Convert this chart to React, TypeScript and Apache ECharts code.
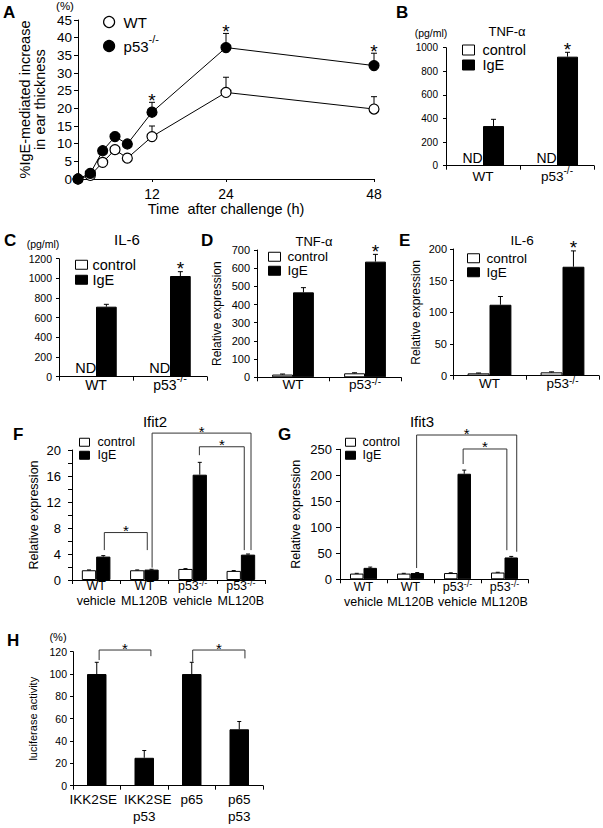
import React, { useEffect, useRef } from 'react';
import * as echarts from 'echarts';

const FONT = '"Liberation Sans", Arial, Helvetica, sans-serif';
const INK = '#000';

// ---------- A: ear swelling time course ----------
const aHours = [0, 2, 4, 6, 8, 12, 24, 48];
const aTickHours = [12, 24, 48];
const aWT = [0, 1.0, 4.7, 8.3, 5.9, 12.0, 24.5, 19.8];
const aWTErr = [0, 0, 0, 0, 0, 3.0, 4.3, 3.5];
const aKO = [0, 1.6, 8.0, 12.0, 9.9, 18.9, 37.2, 32.1];
const aKOErr = [0, 0, 0, 1.2, 0, 2.8, 4.0, 3.5];
const aKOStar = [0, 0, 0, 0, 0, 1, 1, 1];

const genotypes = ['WT', 'p53-/-'];

// ---------- B: TNF-α protein (pg/ml) ----------
const bControl = [0, 0]; // ND
const bIgE = [336, 924];
const bIgEErr = [57, 37];
const bStar = [0, 1];

// ---------- C: IL-6 protein (pg/ml) ----------
const cControl = [0, 0]; // ND
const cIgE = [712, 1024];
const cIgEErr = [24, 44];
const cStar = [0, 1];

// ---------- D: TNF-α mRNA ----------
const dControl = [15, 22];
const dControlErr = [3, 3];
const dIgE = [467, 636];
const dIgEErr = [26, 40];
const dStar = [0, 1];

// ---------- E: IL-6 mRNA ----------
const eControl = [3.7, 5.3];
const eControlErr = [0.6, 0.8];
const eIgE = [112, 172];
const eIgEErr = [13, 25];
const eStar = [0, 1];

const treatments = ['WT\nvehicle', 'WT\nML120B', 'p53-/-\nvehicle', 'p53-/-\nML120B'];

// ---------- F: Ifit2 ----------
const fControl = [1.5, 1.5, 1.7, 1.4];
const fControlErr = [0.05, 0.05, 0.05, 0.05];
const fIgE = [3.6, 1.6, 16.2, 3.9];
const fIgEErr = [0.15, 0.05, 1.9, 0.1];
// comparison brackets: [fromCat, fromOffset, toCat, toOffset, topValue, fromLegEnd, toLegEnd]
const fBrackets = [
  [0, 0.17, 1, 0.06, 7.3, 4.6, 4.6],
  [1, 0.16, 3, 0.21, 22.6, 1.9, 4.6],
  [2, 0.14, 3, 0.07, 20.5, 19.2, 4.6],
];

// ---------- G: Ifit3 ----------
const gControl = [11, 11, 12, 13];
const gControlErr = [0.5, 0.5, 0.5, 0.5];
const gIgE = [22, 12, 203, 42];
const gIgEErr = [1.5, 1, 7, 2];
const gBrackets = [
  [1, 0.13, 3, 0.26, 277.5, 21.7, 53],
  [2, 0.12, 3, 0.05, 250.6, 221.7, 56],
];

// ---------- H: luciferase ----------
const constructs = ['IKK2SE', 'IKK2SE\np53', 'p65', 'p65\np53'];
const hActivity = [100, 25, 100, 50.5];
const hErr = [10.5, 6.5, 10.5, 7];
const hBrackets = [
  [0, 0.05, 1, 0.14, 121.5, 112.5, 116],
  [2, 0.02, 3, 0.12, 121.5, 111, 114],
];

// ---------- layout ----------
const GRIDS = [
  [78, 20, 296, 159],
  [446, 47.7, 148, 118],
  [59, 258.7, 148, 118],
  [257, 250, 144, 127.3],
  [453, 249, 146, 126.7],
  [72, 450, 193, 130],
  [340, 449.3, 188, 130],
  [73, 651.7, 190, 134],
];

const SUP = /^(.*)(-\/-)$/;
function catFormatter(v: any): string {
  return String(v)
    .split('\n')
    .map((line, i) => {
      if (i > 0) return `{m|${line}}`;
      const m = line.match(SUP);
      return m ? `{n|${m[1]}}{sup|${m[2]}}` : `{n|${line}}`;
    })
    .join('\n');
}

// H labels: the two IKK2SE labels sit slightly apart from each other
function hFormatter(v: any, i: number): string {
  const lines = String(v).split('\n');
  const first = i === 0 ? `{nl|${lines[0]}}` : i === 1 ? `{nr|${lines[0]}}` : `{n|${lines[0]}}`;
  return [first, ...lines.slice(1).map((l) => `{m|${l}}`)].join('\n');
}

function rich(fs: number, raise: number, lh2: number) {
  const supFs = Math.round(fs * 0.75);
  return {
    n: { fontSize: fs, lineHeight: fs + 1, padding: [raise, 0, 0, 0], verticalAlign: 'bottom', color: INK, fontFamily: FONT },
    nl: { fontSize: fs, lineHeight: fs + 1, padding: [raise, 7, 0, 0], verticalAlign: 'bottom', color: INK, fontFamily: FONT },
    nr: { fontSize: fs, lineHeight: fs + 1, padding: [raise, 0, 0, 7], verticalAlign: 'bottom', color: INK, fontFamily: FONT },
    sup: { fontSize: supFs, lineHeight: supFs, padding: [0, 0, raise, 0], verticalAlign: 'bottom', color: INK, fontFamily: FONT },
    m: { fontSize: fs, lineHeight: lh2, verticalAlign: 'bottom', color: INK, fontFamily: FONT },
  };
}

const line1 = { color: INK, width: 1 };

function catAxis(gi: number, data: string[], fs: number, raise: number, lh2: number, margin: number, fmt: any = catFormatter) {
  return {
    type: 'category',
    gridIndex: gi,
    data,
    axisLine: { show: true, lineStyle: line1 },
    axisTick: { show: true, length: 4, alignWithLabel: false, lineStyle: line1 },
    axisLabel: { show: true, interval: 0, margin, formatter: fmt, rich: rich(fs, raise, lh2), color: INK },
    splitLine: { show: false },
  };
}

function valAxis(gi: number, max: number, interval: number, fs: number, margin: number, extra: any = {}) {
  return {
    type: 'value',
    gridIndex: gi,
    min: 0,
    max,
    interval,
    axisLine: { show: true, onZero: false, lineStyle: line1 },
    axisTick: { show: true, length: 4, lineStyle: line1 },
    axisLabel: { show: true, fontSize: fs, margin, color: INK, fontFamily: FONT, formatter: (v: number) => String(v) },
    splitLine: { show: false },
    ...extra,
  };
}

function yName(name: string, gap: number, fs: number) {
  return {
    name,
    nameLocation: 'middle',
    nameRotate: 90,
    nameGap: gap,
    nameTextStyle: { fontSize: fs, color: INK, fontFamily: FONT, lineHeight: fs },
  };
}

// asterisk whose glyph is centred on (x, yCenter)
function starEl(x: number, yCenter: number, size: number) {
  return {
    type: 'text',
    x,
    y: yCenter + 0.2 * size,
    style: {
      text: '*',
      fontSize: size,
      fontFamily: FONT,
      fill: INK,
      align: 'center',
      verticalAlign: 'middle',
      textAlign: 'center',
      textVerticalAlign: 'middle',
    },
  };
}

function errSeries(axis: number, xs: number[], vals: number[], errs: number[], opts: any = {}) {
  const { side = 0, frac = 0, cap = 5, stars = null, starSize = 19, starGap = 7, z = 5 } = opts;
  return {
    type: 'custom',
    xAxisIndex: axis,
    yAxisIndex: axis,
    clip: false,
    silent: true,
    z,
    encode: { x: 0, y: 1 },
    data: vals.map((v, i) => [xs[i], v, errs[i], stars ? stars[i] : 0]),
    renderItem: (_p: any, api: any) => {
      const xv = api.value(0);
      const v = api.value(1);
      const e = api.value(2);
      const s = api.value(3);
      const band = side ? api.size([1, 0])[0] : 0;
      const p0 = api.coord([xv, v]);
      const p1 = api.coord([xv, v + e]);
      const x = p0[0] + (side * band * frac) / 2;
      const ch: any[] = [];
      if (e > 0) {
        ch.push({ type: 'line', shape: { x1: x, y1: p0[1], x2: x, y2: p1[1] }, style: { stroke: INK, lineWidth: 1 } });
        ch.push({ type: 'line', shape: { x1: x - cap / 2, y1: p1[1], x2: x + cap / 2, y2: p1[1] }, style: { stroke: INK, lineWidth: 1 } });
      }
      if (s) ch.push(starEl(x, p1[1] - starGap, starSize));
      return { type: 'group', children: ch };
    },
  };
}

function bracketSeries(axis: number, items: number[][], starSize: number) {
  return {
    type: 'custom',
    xAxisIndex: axis,
    yAxisIndex: axis,
    clip: false,
    silent: true,
    z: 6,
    encode: { x: 0, y: 4 },
    data: items,
    renderItem: (_p: any, api: any) => {
      const band = api.size([1, 0])[0];
      const c1 = api.value(0);
      const c2 = api.value(2);
      const top = api.coord([c1, api.value(4)]);
      const x1 = top[0] + api.value(1) * band;
      const x2 = api.coord([c2, api.value(4)])[0] + api.value(3) * band;
      const yT = top[1];
      const yL = api.coord([c1, api.value(5)])[1];
      const yR = api.coord([c2, api.value(6)])[1];
      return {
        type: 'group',
        children: [
          {
            type: 'polyline',
            shape: { points: [[x1, yL], [x1, yT], [x2, yT], [x2, yR]] },
            style: { stroke: '#333', lineWidth: 1, fill: null },
          },
          starEl((x1 + x2) / 2, yT - 5, starSize),
        ],
      };
    },
  };
}

function barPair(axis: number, control: number[], igE: number[], frac: number, ndSize = 14) {
  const pct = `${(frac * 100).toFixed(1)}%`;
  return [
    {
      type: 'bar',
      name: 'control',
      xAxisIndex: axis,
      yAxisIndex: axis,
      barWidth: pct,
      barGap: '0%',
      silent: true,
      itemStyle: { color: '#fff', borderColor: INK, borderWidth: 1 },
      label: { show: false, position: 'top', distance: 1, formatter: 'ND', fontSize: ndSize, color: INK, fontFamily: FONT },
      data: control.map((v) => (v === 0 ? { value: 0, itemStyle: { borderWidth: 0 }, label: { show: true } } : v)),
    },
    {
      type: 'bar',
      name: 'IgE',
      xAxisIndex: axis,
      yAxisIndex: axis,
      barWidth: pct,
      barGap: '0%',
      silent: true,
      itemStyle: { color: INK, borderColor: INK, borderWidth: 1 },
      data: igE,
    },
  ];
}

function barLegend(left: number, firstCenter: number, spacing: number, fs: number, iw: number, ih: number, pad: number) {
  return {
    orient: 'vertical',
    left,
    top: firstCenter - spacing / 2,
    padding: 0,
    itemWidth: iw,
    itemHeight: ih,
    itemGap: 0,
    icon: 'rect',
    selectedMode: false,
    textStyle: { fontSize: fs, color: INK, fontFamily: FONT, lineHeight: spacing, padding: [0, 0, 0, pad] },
    data: [
      { name: 'control', itemStyle: { color: '#fff', borderColor: INK, borderWidth: 1 } },
      { name: 'IgE', itemStyle: { color: INK, borderColor: INK, borderWidth: 1 } },
    ],
  };
}

function txt(text: string, x: number, y: number, size: number, bold = false, align = 'center') {
  return {
    type: 'text',
    x,
    y,
    silent: true,
    style: {
      text,
      fontSize: size,
      fontWeight: bold ? 'bold' : 'normal',
      fontFamily: FONT,
      fill: INK,
      align,
      verticalAlign: 'middle',
      textAlign: align,
      textVerticalAlign: 'middle',
    },
  };
}

function buildOption(): any {
  const idx2 = genotypes.map((_, i) => i);
  const idx4 = treatments.map((_, i) => i);
  const fracB = 0.284, fracC = 0.28, fracD = 0.29, fracE = 0.3, fracF = 0.296, fracG = 0.287, fracH = 0.41;

  const xAxis: any[] = [
    {
      type: 'value',
      gridIndex: 0,
      min: 0,
      max: 48,
      interval: 12,
      axisLine: { show: true, onZero: false, lineStyle: line1 },
      axisTick: { show: true, length: 3, customValues: aTickHours, lineStyle: line1 },
      axisLabel: { show: true, customValues: aTickHours, fontSize: 14, margin: 8, color: INK, fontFamily: FONT },
      splitLine: { show: false },
      name: 'Time  after challenge (h)',
      nameLocation: 'middle',
      nameGap: 22,
      nameTextStyle: { fontSize: 14.5, color: INK, fontFamily: FONT },
    },
    catAxis(1, genotypes, 13.5, 8, 15, 3),
    catAxis(2, genotypes, 14, 8, 15, 0),
    catAxis(3, genotypes, 13.5, 5, 15, 0),
    catAxis(4, genotypes, 13.5, 5, 15, 0),
    catAxis(5, treatments, 12.5, 5, 15, -1),
    catAxis(6, treatments, 12.5, 5, 15, 1),
    catAxis(7, constructs, 13.5, 0, 17, 6, hFormatter),
  ];

  const yAxis: any[] = [
    valAxis(0, 45, 5, 13.5, 6, yName('%IgE-mediated increase\nin ear thickness', 31, 14.5)),
    valAxis(1, 1000, 200, 10, 8, { axisTick: { show: true, length: 3, lineStyle: line1 } }),
    valAxis(2, 1200, 200, 10.5, 7, { axisTick: { show: true, length: 3, lineStyle: line1 } }),
    valAxis(3, 700, 100, 11, 7, { axisTick: { show: true, length: 3, lineStyle: line1 }, ...yName('Relative expression', 34, 12) }),
    valAxis(4, 200, 50, 11, 6, { axisTick: { show: true, length: 3, lineStyle: line1 }, ...yName('Relative expression', 31, 12) }),
    valAxis(5, 20, 4, 13, 11, {
      minorTick: { show: true, splitNumber: 2, length: 4, lineStyle: line1 },
      ...yName('Relative expression', 32, 12.5),
    }),
    valAxis(6, 250, 50, 13, 8, yName('Relative expression', 38, 12.5)),
    valAxis(7, 120, 20, 10.5, 6, { axisTick: { show: true, length: 3, lineStyle: line1 }, ...yName('luciferase activity', 35, 11) }),
  ];

  const series: any[] = [
    // A
    errSeries(0, aHours, aWT, aWTErr, { cap: 6, z: 1 }),
    errSeries(0, aHours, aKO, aKOErr, { cap: 6, z: 1, stars: aKOStar, starSize: 19, starGap: 6 }),
    {
      type: 'line',
      name: 'WT',
      xAxisIndex: 0,
      yAxisIndex: 0,
      data: aHours.map((h, i) => [h, aWT[i]]),
      symbol: 'circle',
      symbolSize: 10,
      silent: true,
      lineStyle: { color: INK, width: 1 },
      itemStyle: { color: '#fff', borderColor: INK, borderWidth: 1.2 },
      z: 3,
    },
    {
      type: 'line',
      name: 'p53-/-',
      xAxisIndex: 0,
      yAxisIndex: 0,
      data: aHours.map((h, i) => [h, aKO[i]]),
      symbol: 'circle',
      symbolSize: 10,
      silent: true,
      lineStyle: { color: INK, width: 1 },
      itemStyle: { color: INK, borderColor: INK, borderWidth: 1.2 },
      z: 4,
    },
    // B
    ...barPair(1, bControl, bIgE, fracB, 14),
    errSeries(1, idx2, bIgE, bIgEErr, { side: 1, frac: fracB, cap: 5, stars: bStar }),
    // C
    ...barPair(2, cControl, cIgE, fracC, 14.5),
    errSeries(2, idx2, cIgE, cIgEErr, { side: 1, frac: fracC, cap: 5, stars: cStar }),
    // D
    ...barPair(3, dControl, dIgE, fracD),
    errSeries(3, idx2, dControl, dControlErr, { side: -1, frac: fracD, cap: 5 }),
    errSeries(3, idx2, dIgE, dIgEErr, { side: 1, frac: fracD, cap: 5, stars: dStar }),
    // E
    ...barPair(4, eControl, eIgE, fracE),
    errSeries(4, idx2, eControl, eControlErr, { side: -1, frac: fracE, cap: 5 }),
    errSeries(4, idx2, eIgE, eIgEErr, { side: 1, frac: fracE, cap: 5, stars: eStar }),
    // F
    ...barPair(5, fControl, fIgE, fracF),
    errSeries(5, idx4, fControl, fControlErr, { side: -1, frac: fracF, cap: 4 }),
    errSeries(5, idx4, fIgE, fIgEErr, { side: 1, frac: fracF, cap: 4 }),
    bracketSeries(5, fBrackets, 15),
    // G
    ...barPair(6, gControl, gIgE, fracG),
    errSeries(6, idx4, gControl, gControlErr, { side: -1, frac: fracG, cap: 4 }),
    errSeries(6, idx4, gIgE, gIgEErr, { side: 1, frac: fracG, cap: 4 }),
    bracketSeries(6, gBrackets, 15),
    // H
    {
      type: 'bar',
      name: 'luciferase',
      xAxisIndex: 7,
      yAxisIndex: 7,
      barWidth: `${fracH * 100}%`,
      silent: true,
      itemStyle: { color: INK, borderColor: INK, borderWidth: 1 },
      data: hActivity,
    },
    errSeries(7, constructs.map((_, i) => i), hActivity, hErr, { side: 0, cap: 4 }),
    bracketSeries(7, hBrackets, 15),
  ];

  const aLegendRich = {
    n: { fontSize: 15, lineHeight: 16, padding: [7, 0, 0, 0], verticalAlign: 'bottom', color: INK, fontFamily: FONT },
    sup: { fontSize: 11, lineHeight: 11, padding: [0, 0, 10, 0], verticalAlign: 'bottom', color: INK, fontFamily: FONT },
  };

  const legend: any[] = [
    {
      orient: 'vertical',
      left: 103,
      top: 12,
      padding: 0,
      itemWidth: 11,
      itemHeight: 11,
      itemGap: 0,
      icon: 'circle',
      selectedMode: false,
      formatter: (name: string) => (name === 'p53-/-' ? '{n|p53}{sup|-/-}' : name),
      textStyle: { fontSize: 15, color: INK, fontFamily: FONT, lineHeight: 20, padding: [0, 0, 0, 4], rich: aLegendRich },
      data: [
        { name: 'WT', itemStyle: { color: '#fff', borderColor: INK, borderWidth: 1.2 } },
        { name: 'p53-/-', itemStyle: { color: INK, borderColor: INK, borderWidth: 1.2 } },
      ],
    },
    barLegend(462, 50, 15, 14.5, 12, 10, 3),
    barLegend(75, 264, 13.5, 14.5, 12, 9, 0),
    barLegend(268, 256.5, 13.5, 13.5, 12, 9, 2),
    barLegend(467, 258, 13.5, 13.5, 12, 9, 2),
    barLegend(79, 442, 12.5, 12.5, 10, 8, 3),
    barLegend(345, 442, 12.5, 12.5, 10, 8, 2),
  ];

  const graphic: any[] = [
    // panel letters
    txt('A', 3, 12.5, 17, true, 'left'),
    txt('B', 396, 12.5, 17, true, 'left'),
    txt('C', 4, 240, 17, true, 'left'),
    txt('D', 201, 240, 17, true, 'left'),
    txt('E', 399, 240, 17, true, 'left'),
    txt('F', 13, 434, 17, true, 'left'),
    txt('G', 278, 434, 17, true, 'left'),
    txt('H', 7, 640, 17, true, 'left'),
    // titles
    txt('TNF-α', 507, 31, 13),
    txt('IL-6', 127, 239, 15),
    txt('TNF-α', 314, 241, 13),
    txt('IL-6', 522, 240, 13.5),
    txt('Ifit2', 155, 421.5, 15),
    txt('Ifit3', 422, 421.5, 15),
    // units
    txt('(%)', 65, 5.5, 11.5),
    txt('(pg/ml)', 431, 33, 10.5),
    txt('(pg/ml)', 43, 244, 10.5),
    txt('(%)', 58, 637, 11),
  ];

  return {
    animation: false,
    backgroundColor: '#fff',
    textStyle: { fontFamily: FONT, color: INK },
    grid: GRIDS.map(([left, top, width, height]) => ({ left, top, width, height, containLabel: false, outerBoundsMode: 'none' })),
    xAxis,
    yAxis,
    legend,
    series,
    graphic,
  };
}

export default function App() {
  const ref = useRef<HTMLDivElement>(null);
  useEffect(() => {
    document.body.style.margin = '0';
    const chart = echarts.init(ref.current as HTMLDivElement, undefined, { renderer: 'svg' });
    chart.setOption(buildOption());
    return () => chart.dispose();
  }, []);
  return <div ref={ref} style={{ width: 603, height: 828, background: '#fff' }} />;
}
